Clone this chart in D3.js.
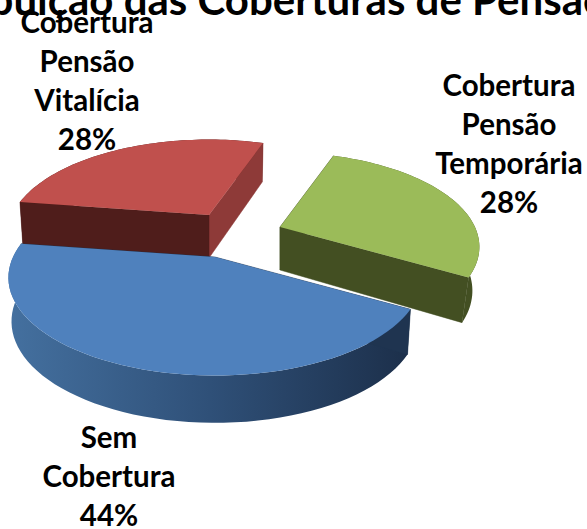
<html>
<head>
<meta charset="utf-8">
<title>Distribuição das Coberturas de Pensão</title>
<script src="https://d3js.org/d3.v7.min.js"></script>
<style>
html, body { margin: 0; padding: 0; background: #fff; overflow: hidden; }
text { font-family: Lato, "Open Sans", sans-serif; font-weight: 700; fill: #000; text-anchor: middle; }
</style>
</head>
<body>
<div id="chart"></div>
<script>
// data, clockwise from the lower right
var categories = ["Sem Cobertura", "Cobertura Pensão Vitalícia", "Cobertura Pensão Temporária"];
var values = [44, 28, 28];
var labelLines = [
  ["Sem", "Cobertura", "44%"],
  ["Cobertura", "Pensão", "Vitalícia", "28%"],
  ["Cobertura", "Pensão", "Temporária", "28%"]
];
var title = "Distribuição das Coberturas de Pensão";

// look of each slice
var topColors = ["#4f81bd", "#c0504d", "#9bbb59"];
var frontColors = ["#1f3450", "#4f1d1b", "#434f22"];
var sideColors = ["#1f3450", "#8e3a38", "#434f22"];
var apexX = [215, 209, 280];
var apexY = [257, 215, 227];
var sliceScale = [1, 0.975, 0.965];
var baseShrink = [0.985, 0.985, 0.965];
var labelX = [109, 87, 509];
var labelY = [448, 33, 96];

var svg_width = 587, svg_height = 529;
var radiusX = 202, radiusY = 198;
var tilt = 0.473, persp = 0.21;
var depth = 43;

var svg = d3.select("#chart").append("svg")
  .attr("width", svg_width)
  .attr("height", svg_height);

var grad = svg.append("defs").append("linearGradient")
  .attr("id", "blueWall")
  .attr("gradientUnits", "userSpaceOnUse")
  .attr("x1", 10).attr("x2", 410).attr("y1", 0).attr("y2", 0);
grad.append("stop").attr("offset", "0%").attr("stop-color", "#44709f");
grad.append("stop").attr("offset", "50%").attr("stop-color", "#2f5078");
grad.append("stop").attr("offset", "100%").attr("stop-color", "#1c2f4a");

var pie = d3.pie()
  .sort(null)
  .startAngle(120 * Math.PI / 180)
  .endAngle(480 * Math.PI / 180);

var line = d3.line();

// a point of the pie plane to the screen, h is how far below the top face
function project(i, angle, r, h) {
  var c = Math.cos(angle) * r;
  var s = sliceScale[i] / (1 + persp * c);
  var shrink = h ? baseShrink[i] : 1;
  return [
    apexX[i] + radiusX * Math.sin(angle) * r * s * shrink,
    apexY[i] - radiusY * tilt * c * s + h * (1 - 0.1 * c)
  ];
}

function arcPoints(d, i, h) {
  var step = d3.scaleLinear().domain([0, 60]).range([d.startAngle, d.endAngle]);
  return d3.range(61).map(function(k) { return project(i, step(k), 1, h); });
}

function drawSlice(d, i) {
  var g = svg.append("g").attr("class", "slice");
  var rim = arcPoints(d, i, 0);

  g.append("path")
    .attr("d", line(rim.concat(arcPoints(d, i, depth).reverse())) + "Z")
    .attr("fill", i === 0 ? "url(#blueWall)" : frontColors[i]);

  // side that starts the slice, then the one that ends it
  var walls = [d.startAngle, d.endAngle];
  // red: the end side looks to the right, start side to the front
  var order = i === 1 ? [1, 0] : [0, 1];
  order.forEach(function(w) {
    var a = walls[w];
    var pts = [project(i, a, 0, 0), project(i, a, 1, 0), project(i, a, 1, depth), project(i, a, 0, depth)];
    var col = w === 1 ? sideColors[i] : frontColors[i];
    g.append("path")
      .attr("d", line(pts) + "Z")
      .attr("fill", col)
      .attr("stroke", col)
      .attr("stroke-width", 0.5);
  });

  g.append("path")
    .attr("d", line([project(i, d.startAngle, 0, 0)].concat(rim)) + "Z")
    .attr("fill", topColors[i]);
}

var slices = pie(values);
// back slices first, blue sits in front of the red one
[1, 2, 0].forEach(function(i) { drawSlice(slices[i], i); });

svg.append("text")
  .attr("x", 247)
  .attr("y", 15)
  .style("font-size", "42px")
  .text(title);

labelLines.forEach(function(lines, i) {
  var t = svg.append("text").attr("class", "label").style("font-size", "29.5px");
  lines.forEach(function(s, k) {
    t.append("tspan")
      .attr("x", labelX[i])
      .attr("y", labelY[i] + k * 39)
      .text(s);
  });
});
</script>
</body>
</html>
